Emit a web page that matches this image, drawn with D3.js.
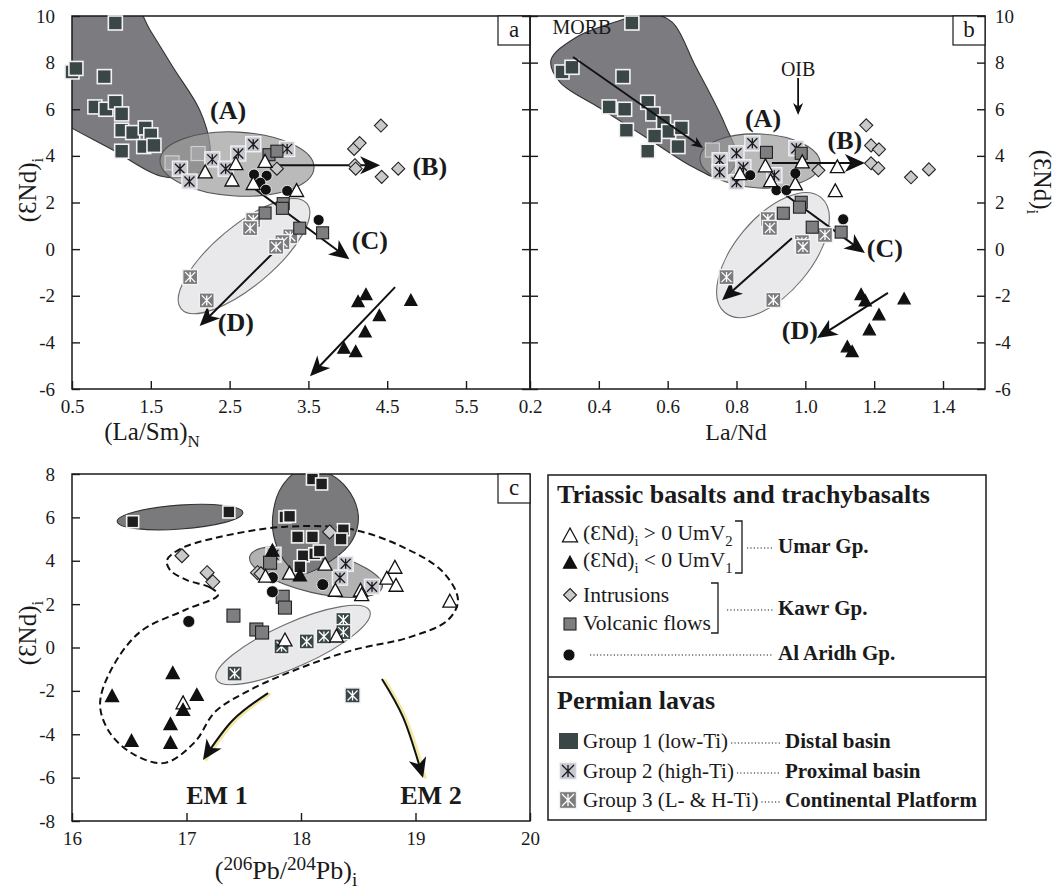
<!DOCTYPE html>
<html lang="en">
<head>
<meta charset="UTF-8">
<title>(εNd)i diagrams</title>
<style>
  body { margin: 0; background: #fff; }
</style>
</head>
<body>
<svg id="chart" width="1056" height="895"></svg>
<script src="https://cdn.jsdelivr.net/npm/d3@7/dist/d3.min.js"></script>
<script>
// ---------- data: panel a, (La/Sm)N vs (eNd)i ----------
const aTicksX = [0.5, 1.5, 2.5, 3.5, 4.5, 5.5];
const eNdTicksAB = [-6, -4, -2, 0, 2, 4, 6, 8, 10];
const aGroup1 = [[1.05,9.7],[0.5,7.6],[0.55,7.75],[0.91,7.4],[0.79,6.1],[0.93,6.0],[1.05,6.3],[1.13,5.8],[1.13,5.1],[1.27,5.0],[1.43,5.2],[1.5,4.9],[1.41,4.4],[1.54,4.45],[1.13,4.2]];
const aGroup1Faded = [[1.77,3.7],[2.1,4.1]];
const aGroup2 = [[1.87,3.45],[1.99,2.9],[2.28,3.85],[2.45,3.45],[2.61,4.1],[2.8,4.5],[3.23,4.3]];
const aGroup3 = [[2.8,1.25],[2.76,0.9],[3.27,0.55],[3.17,0.3],[3.09,0.1],[2.0,-1.2],[2.21,-2.2]];
const aUmarOpen = [[2.19,3.25],[2.58,3.6],[2.53,2.9],[2.8,2.75],[2.95,3.7],[3.35,2.45]];
const aUmarFull = [[4.23,-2.0],[4.13,-2.3],[4.8,-2.25],[4.4,-2.9],[4.22,-3.6],[3.95,-4.3],[4.1,-4.45]];
const aAlAridh = [[2.81,3.2],[2.97,3.15],[2.89,2.85],[2.96,2.55],[3.23,2.5],[3.63,1.25]];
const aKawrFlows = [[3.0,4.05],[3.1,4.2],[3.18,1.95],[3.17,1.75],[2.95,1.55],[3.39,0.9],[3.68,0.7]];
const aKawrIntr = [[3.1,3.45],[4.42,5.3],[4.08,4.3],[4.15,4.55],[4.09,3.6],[4.1,3.45],[4.43,3.1],[4.64,3.45]];
const aGroup1Field = [[0.28,10.7],[1.24,10.7],[1.49,9.4],[1.78,7.81],[2.12,5.97],[2.25,4.47],[2.23,3.61],[2.0,3.14],[1.62,3.14],[1.02,4.25],[0.5,5.19],[0.28,5.62]];
const aFieldA = [[1.617,3.82],[3.571,3.48]];
const aFieldG3 = [[1.886,-2.56],[3.48,1.96]];
const aArrows = [
  [[3.11,3.6],[4.41,3.6]],
  [[2.76,2.74],[4.02,-0.43]],
  [[3.24,0.47],[2.12,-3.3]],
  [[4.6,-1.63],[3.52,-5.45]]
];
const aLabels = [["(A)",2.48,5.97],["(B)",5.04,3.56],["(C)",4.28,0.39],["(D)",2.58,-3.13]];

// ---------- data: panel b, La/Nd vs (eNd)i ----------
const bTicksX = [0.2, 0.4, 0.6, 0.8, 1.0, 1.2, 1.4];
const bGroup1 = [[0.496,9.7],[0.293,7.6],[0.322,7.8],[0.47,7.4],[0.43,6.1],[0.475,6.0],[0.542,6.3],[0.557,5.8],[0.588,5.45],[0.603,5.05],[0.64,5.2],[0.562,4.85],[0.48,5.1],[0.63,4.4],[0.542,4.2]];
const bGroup1Faded = [[0.73,4.25]];
const bGroup2 = [[0.751,3.81],[0.751,3.3],[0.8,4.11],[0.82,3.51],[0.846,4.54],[0.8,2.87],[0.91,3.17],[0.974,4.33]];
const bGroup3 = [[0.891,1.29],[0.897,0.91],[1.057,0.61],[0.99,0.3],[0.993,0.09],[0.771,-1.2],[0.907,-2.18]];
const bUmarOpen = [[0.81,3.17],[0.884,3.51],[0.899,2.87],[0.971,2.74],[0.991,3.68],[1.093,3.47],[1.087,2.44]];
const bUmarFull = [[1.162,-2.0],[1.174,-2.27],[1.287,-2.18],[1.214,-2.87],[1.186,-3.51],[1.122,-4.24],[1.136,-4.45]];
const bAlAridh = [[0.84,3.17],[0.971,3.25],[0.916,2.53],[0.945,2.53],[1.11,1.28]];
const bKawrFlows = [[0.887,4.15],[0.988,4.11],[0.988,2.01],[0.983,1.8],[0.936,1.54],[1.02,0.94],[1.104,0.73]];
const bKawrIntr = [[1.177,5.31],[1.191,4.45],[1.214,4.28],[1.191,3.68],[1.212,3.47],[1.038,3.38],[1.307,3.08],[1.359,3.42]];
const bGroup1Field = [[0.261,8.11],[0.331,9.06],[0.447,9.74],[0.549,10.09],[0.613,9.74],[0.679,7.9],[0.767,5.33],[0.801,3.82],[0.758,3.05],[0.679,3.48],[0.549,4.68],[0.403,6.05],[0.287,7.16]];
const bFieldA = [[0.694,3.91],[1.043,3.65]];
const bFieldG3 = [[0.766,-2.72],[1.046,2.21]];
const bArrows = [
  [[0.903,3.69],[1.173,3.69]],
  [[0.935,2.41],[1.173,-0.17]],
  [[0.961,0.47],[0.758,-2.19]],
  [[1.24,-1.88],[1.034,-3.81]]
];
const bSmallArrows = [
  [[0.325,8.24],[0.703,4.34]],
  [[0.979,7.34],[0.979,5.75]]
];
const bLabels = [["(A)",0.877,5.62],["(B)",1.115,4.68],["(C)",1.231,0.05],["(D)",0.984,-3.47]];
const bNotes = [["MORB",0.351,9.53],["OIB",0.979,7.72]];

// ---------- data: panel c, (206Pb/204Pb)i vs (eNd)i ----------
const cTicksX = [16, 17, 18, 19, 20];
const eNdTicksC = [-8, -6, -4, -2, 0, 2, 4, 6, 8];
const cGroup1 = [[16.53,5.8],[17.37,6.25],[17.86,6.02],[17.9,6.05],[18.1,7.77],[18.18,7.54],[17.97,5.1],[18.1,5.1],[18.37,5.43],[18.35,5.0],[18.02,4.23],[18.12,4.32],[18.16,4.45],[17.99,3.72]];
const cGroup2 = [[18.39,3.86],[18.34,3.22],[18.62,2.8],[17.76,4.28]];
const cGroup3 = [[17.42,-1.2],[17.83,0.05],[18.05,0.28],[18.2,0.51],[18.37,1.27],[18.37,0.71],[18.45,-2.21]];
const cUmarOpen = [[17.69,3.22],[17.9,3.36],[18.21,3.77],[18.3,2.57],[18.52,2.57],[18.53,2.37],[18.75,3.13],[18.82,3.63],[18.83,2.8],[19.3,2.07],[17.86,0.28],[18.31,0.46],[16.97,-2.62]];
const cUmarFull = [[16.35,-2.3],[16.88,-1.24],[17.09,-2.25],[16.97,-2.94],[16.86,-3.59],[16.52,-4.37],[16.86,-4.46],[17.75,4.41],[17.99,3.26]];
const cAlAridh = [[17.02,1.2],[17.75,3.22],[17.75,2.57],[18.19,2.9]];
const cKawrFlows = [[17.41,1.47],[17.61,0.83],[17.66,0.69],[17.73,3.91],[17.84,2.34],[17.86,1.84]];
const cKawrIntr = [[16.96,4.23],[17.18,3.45],[17.23,3.03],[17.62,3.45],[17.65,3.4],[18.25,5.33]];
const cGroup1Field = [[17.99,8.18],[18.21,8.09],[18.4,7.35],[18.5,6.11],[18.45,4.96],[18.27,4.03],[17.99,3.39],[17.85,4.03],[17.76,5.19],[17.76,6.34],[17.83,7.4]];
const cFieldSmall = [[16.395,5.81],[17.492,6.22]];
const cFieldG2 = [[17.552,4.19],[18.71,2.78]];
const cFieldG3 = [[17.26,-1.46],[18.6,1.69]];
const cTriassicField = [[17.275,2.42],[17.205,2.77],[17.004,3.11],[16.856,3.57],[16.83,4.03],[16.943,4.54],[17.249,5.05],[17.843,5.56],[18.428,5.46],[18.891,4.63],[19.24,3.48],[19.371,2.19],[19.284,1.27],[18.952,0.48],[18.454,-0.12],[17.991,-0.95],[17.555,-1.96],[17.249,-2.97],[17.074,-4.35],[16.812,-5.32],[16.55,-4.96],[16.332,-3.94],[16.245,-2.65],[16.332,-1.13],[16.59,0.7],[16.987,1.73]];
const cArrows = [
  [[17.712,-2.1],[17.406,-3.34],[17.144,-5.19]],
  [[18.707,-1.45],[18.891,-3.21],[19.066,-6.02]]
];
const cLabels = [["EM 1",17.266,-6.8],["EM 2",19.135,-6.8]];

// ---------- drawing ----------
const serif = '"Liberation Serif", "Times New Roman", serif';
const ink = '#1a1a1a';
const svg = d3.select('#chart').attr('font-family', serif);
const defs = svg.append('defs');

function makePanel(name, box, xDom, yDom) {
  const x = d3.scaleLinear().domain(xDom).range([box.left, box.right]);
  const y = d3.scaleLinear().domain(yDom).range([box.bottom, box.top]);
  defs.append('clipPath').attr('id', 'clip-' + name).append('rect')
    .attr('x', box.left).attr('y', box.top)
    .attr('width', box.right - box.left).attr('height', box.bottom - box.top);
  const fields = svg.append('g').attr('clip-path', `url(#clip-${name})`);
  return { x, y, box, fields };
}

function richText(parent, x, y, segs, size, subScale) {
  const ss = subScale || 0.68;
  const t = parent.append('text').attr('x', x).attr('y', y).attr('font-size', size).attr('fill', ink);
  let shift = 0;
  segs.forEach(s => {
    const seg = typeof s === 'string' ? { t: s } : s;
    const target = seg.sub ? size * 0.28 : seg.sup ? -size * 0.34 : 0;
    const ts = t.append('tspan').text(seg.t).attr('dy', target - shift);
    if (seg.sub || seg.sup) ts.attr('font-size', size * ss);
    if (seg.bold) ts.attr('font-weight', 'bold');
    shift = target;
  });
  return t;
}

function addAxis(gen, transform, ticks, fmt, pad) {
  svg.append('g').attr('transform', transform)
    .call(gen.tickValues(ticks).tickFormat(fmt).tickSize(-8).tickPadding(pad))
    .attr('font-family', serif).attr('font-size', 19)
    .call(g => g.select('.domain').remove())
    .call(g => g.selectAll('line').attr('stroke', ink).attr('stroke-width', 1.4))
    .call(g => g.selectAll('text').attr('fill', ink));
}

function frame(P, letter) {
  const b = P.box;
  svg.append('rect').attr('x', b.left).attr('y', b.top)
    .attr('width', b.right - b.left).attr('height', b.bottom - b.top)
    .attr('fill', 'none').attr('stroke', ink).attr('stroke-width', 1.5);
  svg.append('rect').attr('x', b.right - 32).attr('y', b.top).attr('width', 32).attr('height', 29)
    .attr('fill', '#fff').attr('stroke', ink).attr('stroke-width', 1.2);
  svg.append('text').attr('x', b.right - 16).attr('y', b.top + 21).attr('text-anchor', 'middle')
    .attr('font-size', 23).attr('fill', ink).text(letter);
}

function blob(P, pts, fill, stroke) {
  const line = d3.line().x(d => P.x(d[0])).y(d => P.y(d[1])).curve(d3.curveCatmullRomClosed.alpha(0.5));
  return P.fields.append('path').attr('d', line(pts)).attr('fill', fill).attr('stroke', stroke).attr('stroke-width', 1.1);
}

function ellipse(P, ends, b, fill, stroke, opacity) {
  const p1 = [P.x(ends[0][0]), P.y(ends[0][1])], p2 = [P.x(ends[1][0]), P.y(ends[1][1])];
  const cx = (p1[0] + p2[0]) / 2, cy = (p1[1] + p2[1]) / 2;
  const a = Math.hypot(p2[0] - p1[0], p2[1] - p1[1]) / 2;
  const ang = Math.atan2(p2[1] - p1[1], p2[0] - p1[0]) * 180 / Math.PI;
  P.fields.append('ellipse').attr('rx', a).attr('ry', b)
    .attr('transform', `translate(${cx},${cy}) rotate(${ang})`)
    .attr('fill', fill).attr('fill-opacity', opacity).attr('stroke', stroke).attr('stroke-width', 1.1);
}

// marker symbols, drawn at pixel position (px, py)
function sym(g, kind, px, py, s) {
  const h = s / 2;
  const n = g.append('g').attr('transform', `translate(${px},${py})`);
  if (kind === 'g1' || kind === 'g1c' || kind === 'faded' || kind === 'flow') {
    const st = {
      g1: ['#3b4647', '#f2f2f2', 1.6], g1c: ['#1e1e1e', '#f2f2f2', 1.6],
      faded: ['#a4a4a6', '#cfcfcf', 1.2], flow: ['#7e7e80', '#222', 1.1]
    }[kind];
    n.append('rect').attr('x', -h).attr('y', -h).attr('width', s).attr('height', s)
      .attr('fill', st[0]).attr('stroke', st[1]).attr('stroke-width', st[2]);
  } else if (kind === 'g2' || kind === 'g3' || kind === 'g3c') {
    const fill = kind === 'g2' ? '#c6c7d0' : kind === 'g3' ? '#7c7c7e' : '#3b4647';
    const lc = kind === 'g2' ? '#1a1a1a' : '#fff';
    n.append('rect').attr('x', -h).attr('y', -h).attr('width', s).attr('height', s)
      .attr('fill', fill).attr('stroke', '#f2f2f2').attr('stroke-width', 1.4);
    const k = h - 2.5;
    n.append('path').attr('d', `M${-k},${-k}L${k},${k}M${-k},${k}L${k},${-k}M0,${-k}V${k}`)
      .attr('stroke', lc).attr('stroke-width', 1.3).attr('fill', 'none');
  } else if (kind === 'open' || kind === 'full') {
    n.append('path').attr('d', `M0,${-s * 0.6}L${h},${s * 0.32}L${-h},${s * 0.32}Z`)
      .attr('fill', kind === 'open' ? '#fff' : '#111').attr('stroke', '#111').attr('stroke-width', 1.3)
      .attr('stroke-linejoin', 'miter');
  } else if (kind === 'circle') {
    n.append('circle').attr('r', h).attr('fill', '#111').attr('stroke', '#fff').attr('stroke-width', 0.8);
  } else if (kind === 'diamond') {
    n.append('path').attr('d', `M0,${-h}L${h},0L0,${h}L${-h},0Z`)
      .attr('fill', '#c9c9c9').attr('stroke', '#222').attr('stroke-width', 1.1);
  }
}

function points(P, pts, kind, s) {
  const g = svg.append('g');
  pts.forEach(d => sym(g, kind, P.x(d[0]), P.y(d[1]), s));
}

function arrow(P, pts, o) {
  const g = svg.append('g');
  const curve = pts.length > 2 ? d3.curveCatmullRom : d3.curveLinear;
  const line = d3.line().x(d => P.x(d[0])).y(d => P.y(d[1])).curve(curve);
  if (o.glow) {
    g.append('path').attr('d', line(pts)).attr('fill', 'none').attr('stroke', '#f1e9a2')
      .attr('stroke-width', 3).attr('transform', 'translate(2.5,0.5)');
  }
  const path = g.append('path').attr('d', line(pts)).attr('fill', 'none')
    .attr('stroke', '#111').attr('stroke-width', o.w);
  const node = path.node(), L = node.getTotalLength();
  const tip = node.getPointAtLength(L), back = node.getPointAtLength(L - 5);
  const ang = Math.atan2(tip.y - back.y, tip.x - back.x) * 180 / Math.PI;
  path.attr('stroke-dasharray', `${L - o.len * 0.5} ${L}`);
  g.append('path').attr('d', `M0,0L${-o.len},${-o.half}L${-o.len * 0.72},0L${-o.len},${o.half}Z`)
    .attr('fill', '#111').attr('transform', `translate(${tip.x},${tip.y}) rotate(${ang})`);
}

function labels(P, list, size, bold) {
  list.forEach(d => {
    svg.append('text').attr('x', P.x(d[1])).attr('y', P.y(d[2])).attr('dy', '0.35em')
      .attr('text-anchor', 'middle').attr('font-size', size)
      .attr('font-weight', bold ? 'bold' : 'normal').attr('fill', ink).text(d[0]);
  });
}

function eNdTitle(x, y, rot) {
  const g = svg.append('g').attr('transform', `translate(${x},${y}) rotate(${rot})`);
  richText(g, 0, 0, ['(\u0190Nd)', { t: 'i', sub: true }], 25).attr('text-anchor', 'middle');
}

// ----- panel a -----
const A = makePanel('a', { left: 72, right: 530, top: 16, bottom: 389 }, [0.5, 6.312], [-6, 10]);
blob(A, aGroup1Field, '#7c7c80', '#333');
ellipse(A, aFieldA, 32, '#9c9c9c', '#555', 0.7);
aGroup1Faded.forEach(d => sym(A.fields, 'faded', A.x(d[0]), A.y(d[1]), 14));
ellipse(A, aFieldG3, 30, '#e8e8ea', '#6e6e6e', 0.95);
frame(A, 'a');
addAxis(d3.axisLeft(A.y), `translate(${A.box.left},0)`, eNdTicksAB, d => d, 17);
addAxis(d3.axisRight(A.y), `translate(${A.box.right},0)`, eNdTicksAB, () => '', 4);
addAxis(d3.axisBottom(A.x), `translate(0,${A.box.bottom})`, aTicksX, d3.format('.1f'), 11);
points(A, aGroup1, 'g1', 14);
aArrows.forEach(p => arrow(A, p, { w: 2, len: 20, half: 9 }));
points(A, aGroup3, 'g3', 15);
points(A, aGroup2, 'g2', 15);
points(A, aKawrFlows, 'flow', 12);
points(A, aKawrIntr, 'diamond', 13);
points(A, aAlAridh, 'circle', 11);
points(A, aUmarOpen, 'open', 14);
points(A, aUmarFull, 'full', 12);
labels(A, aLabels, 26, true);

// ----- panel b -----
const B = makePanel('b', { left: 530, right: 985, top: 16, bottom: 389 }, [0.2, 1.522], [-6, 10]);
blob(B, bGroup1Field, '#7c7c80', '#333');
ellipse(B, bFieldA, 27, '#9c9c9c', '#555', 0.7);
bGroup1Faded.forEach(d => sym(B.fields, 'faded', B.x(d[0]), B.y(d[1]), 14));
ellipse(B, bFieldG3, 38, '#e8e8ea', '#6e6e6e', 0.95);
frame(B, 'b');
addAxis(d3.axisLeft(B.y), `translate(${B.box.left},0)`, eNdTicksAB, () => '', 4);
addAxis(d3.axisRight(B.y), `translate(${B.box.right},0)`, eNdTicksAB, d => d, 10);
addAxis(d3.axisBottom(B.x), `translate(0,${B.box.bottom})`, bTicksX, d3.format('.1f'), 11);
points(B, bGroup1, 'g1', 14);
bSmallArrows.forEach(p => arrow(B, p, { w: 1.8, len: 12, half: 5 }));
bArrows.forEach(p => arrow(B, p, { w: 2, len: 20, half: 9 }));
points(B, bGroup3, 'g3', 15);
points(B, bGroup2, 'g2', 15);
points(B, bKawrFlows, 'flow', 12);
points(B, bKawrIntr, 'diamond', 13);
points(B, bAlAridh, 'circle', 11);
points(B, bUmarOpen, 'open', 14);
points(B, bUmarFull, 'full', 12);
labels(B, bLabels, 26, true);
labels(B, bNotes, 20, false);

// ----- panel c -----
const C = makePanel('c', { left: 72, right: 530, top: 474, bottom: 821 }, [16, 20], [-8, 8]);
ellipse(C, cFieldG3, 22, '#e8e8ea', '#6e6e6e', 0.95);
ellipse(C, cFieldG2, 21, '#b2b2b2', '#555', 1);
ellipse(C, cFieldSmall, 12, '#7a7a7c', '#333', 1);
blob(C, cGroup1Field, '#7a7a7c', '#333');
C.fields.append('path')
  .attr('d', d3.line().x(d => C.x(d[0])).y(d => C.y(d[1])).curve(d3.curveCatmullRomClosed.alpha(0.5))(cTriassicField))
  .attr('fill', 'none').attr('stroke', '#111').attr('stroke-width', 2).attr('stroke-dasharray', '7,4');
frame(C, 'c');
addAxis(d3.axisLeft(C.y), `translate(${C.box.left},0)`, eNdTicksC, d => d, 17);
addAxis(d3.axisBottom(C.x), `translate(0,${C.box.bottom})`, cTicksX, d => d, 11);
cArrows.forEach(p => arrow(C, p, { w: 2, len: 20, half: 9, glow: true }));
points(C, cGroup3, 'g3c', 15);
points(C, cGroup2, 'g2', 15);
points(C, cKawrFlows, 'flow', 13);
points(C, cKawrIntr, 'diamond', 14);
points(C, cGroup1, 'g1c', 12);
points(C, cAlAridh, 'circle', 12);
points(C, cUmarOpen, 'open', 14);
points(C, cUmarFull, 'full', 13);
labels(C, cLabels, 26, true);

// ----- axis titles -----
richText(svg, 152, 440, ['(La/Sm)', { t: 'N', sub: true }], 25).attr('text-anchor', 'middle');
richText(svg, 736, 440, ['La/Nd'], 24).attr('text-anchor', 'middle');
richText(svg, 286, 879, ['(', { t: '206', sup: true }, 'Pb/', { t: '204', sup: true }, 'Pb)', { t: 'i', sub: true }], 26, 0.74).attr('text-anchor', 'middle');
eNdTitle(36, 190, -90);
eNdTitle(1034, 182, 90);
eNdTitle(36, 633, -90);

// ----- legend -----
const lg = svg.append('g');
lg.append('rect').attr('x', 548).attr('y', 475).attr('width', 438).attr('height', 345)
  .attr('fill', '#fff').attr('stroke', ink).attr('stroke-width', 1.5);
lg.append('line').attr('x1', 548).attr('x2', 986).attr('y1', 677).attr('y2', 677)
  .attr('stroke', ink).attr('stroke-width', 1.3);
lg.append('text').attr('x', 557).attr('y', 503).attr('font-size', 26).attr('font-weight', 'bold')
  .attr('fill', ink).text('Triassic basalts and trachybasalts');
lg.append('text').attr('x', 557).attr('y', 709).attr('font-size', 26).attr('font-weight', 'bold')
  .attr('fill', ink).text('Permian lavas');

function dots(x1, x2, y) {
  lg.append('line').attr('x1', x1).attr('x2', x2).attr('y1', y).attr('y2', y)
    .attr('stroke', ink).attr('stroke-width', 1.1).attr('stroke-dasharray', '1.2,2.2');
}
function bracket(x, y1, y2) {
  lg.append('path').attr('d', `M${x - 7},${y1}H${x}V${y2}H${x - 7}`)
    .attr('fill', 'none').attr('stroke', ink).attr('stroke-width', 1.3);
}
function boldTag(x, y, t) {
  lg.append('text').attr('x', x).attr('y', y).attr('font-size', 21).attr('font-weight', 'bold')
    .attr('fill', ink).text(t);
}

sym(lg, 'open', 570, 537, 15);
richText(lg, 583, 540, ['(\u0190Nd)', { t: 'i', sub: true }, ' > 0 UmV', { t: '2', sub: true }], 21.5);
sym(lg, 'full', 570, 564, 13);
richText(lg, 583, 567, ['(\u0190Nd)', { t: 'i', sub: true }, ' < 0 UmV', { t: '1', sub: true }], 21.5);
bracket(742, 521, 573);
dots(747, 773, 548);
boldTag(778, 553, 'Umar Gp.');

sym(lg, 'diamond', 570, 595, 13);
richText(lg, 583, 602, ['Intrusions'], 21.5);
sym(lg, 'flow', 570, 624, 12);
richText(lg, 583, 630, ['Volcanic flows'], 21.5);
bracket(718, 583, 633);
dots(727, 773, 610);
boldTag(778, 615, 'Kawr Gp.');

sym(lg, 'circle', 569, 655, 12);
dots(590, 773, 655);
boldTag(778, 660, 'Al Aridh Gp.');

const permian = [
  ['g1', 'Group 1 (low-Ti)', 'Distal basin', 748],
  ['g2', 'Group 2 (high-Ti)', 'Proximal basin', 778],
  ['g3', 'Group 3 (L- & H-Ti)', 'Continental Platform', 807]
];
permian.forEach(r => {
  if (r[0] === 'g1') {
    lg.append('rect').attr('x', 559).attr('y', r[3] - 15).attr('width', 19).attr('height', 16).attr('fill', '#3b4647');
  } else {
    sym(lg, r[0], 568, r[3] - 7, 17);
  }
  const t = richText(lg, 583, r[3], [r[1]], 21);
  const end = 583 + t.node().getComputedTextLength();
  dots(end + 3, 780, r[3] - 5);
  boldTag(785, r[3], r[2]);
});
</script>
</body>
</html>
